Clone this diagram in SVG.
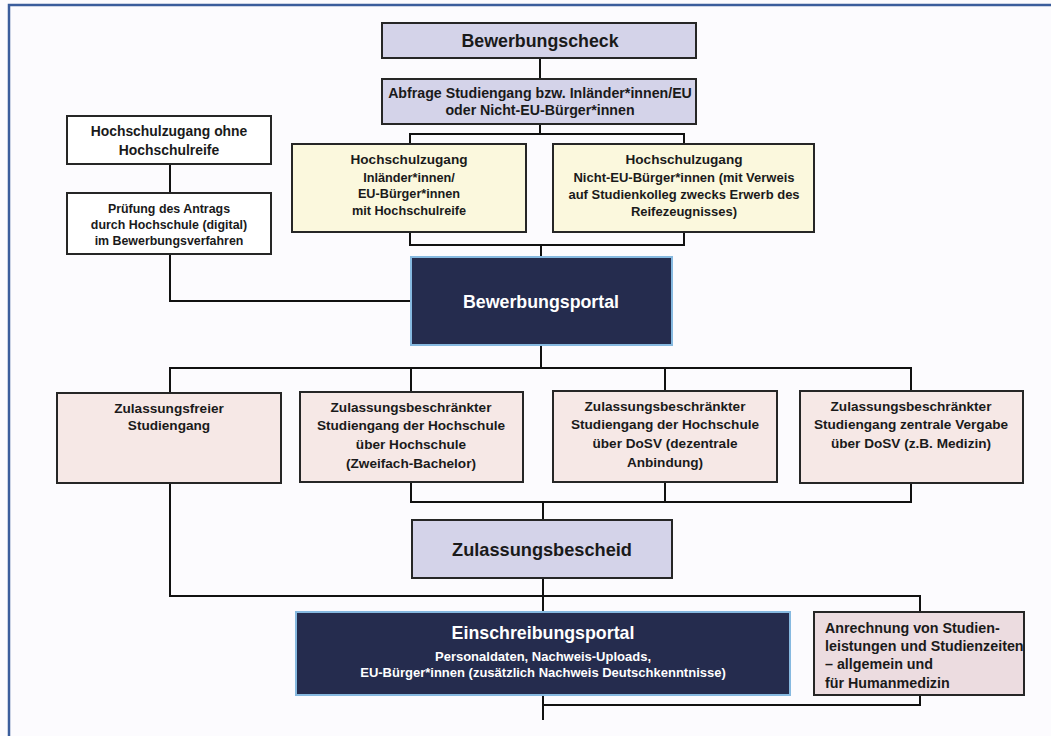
<svg xmlns="http://www.w3.org/2000/svg" width="1051" height="736" viewBox="0 0 1051 736">
<style>
.bg{fill:#fcfbfe}
.frame{fill:none;stroke:#3b5d9c;stroke-width:2.5}
.box{stroke:#262626;stroke-width:2}
.lav{fill:#d4d3e9}
.yel{fill:#fbf8dd}
.pink{fill:#f6e8e6}
.pink2{fill:#ecdce0}
.wht{fill:#ffffff}
.navy{fill:#252c4e;stroke:#86b9e0;stroke-width:2}
.conn{fill:none;stroke:#111;stroke-width:2}
text{font-family:"Liberation Sans",Arial,sans-serif;font-weight:bold;fill:#1a1a1a;text-anchor:middle}
.w{fill:#ffffff}
.h17{font-size:17.8px}
.h18{font-size:18.2px}
.abf{font-size:14.2px}
.t14{font-size:13.9px}
.t136{font-size:13.6px}
.t13{font-size:13px}
.t127{font-size:12.7px}
.t124{font-size:12.4px}
.t144{font-size:14.3px}
.left{text-anchor:start}
</style>
<rect class="bg" x="0" y="0" width="1051" height="736"/>
<path class="frame" d="M9 740 V5 H1060"/>
<g id="connectors">
<path class="conn" d="M540 58 V79"/>
<path class="conn" d="M540 124 V134 M410 144 V134 H684 V144"/>
<path class="conn" d="M410 232 V245 H684 V232 M541 245 V258"/>
<path class="conn" d="M170 164 V193"/>
<path class="conn" d="M170 254 V301 H411"/>
<path class="conn" d="M541 345 V368 M170 392 V368 H911 V391 M411 368 V392 M665 368 V391"/>
<path class="conn" d="M411 482 V502 H911 V483 M665 482 V502 M543 502 V520"/>
<path class="conn" d="M170 483 V596 H920 V612 M543 578 V612"/>
<path class="conn" d="M543 695 V720 M543 705 H920 V695"/>
</g>
<g id="bewerbungscheck">
<rect class="box lav" x="382" y="23" width="314" height="35"/>
<text class="h17" x="540" y="47">Bewerbungscheck</text>
</g>
<g id="abfrage">
<rect class="box lav" x="382" y="79" width="314" height="45"/>
<text class="abf" x="540" y="98">Abfrage Studiengang bzw. Inländer*innen/EU</text>
<text class="abf" x="540" y="115">oder Nicht-EU-Bürger*innen</text>
</g>
<g id="ohne-hochschulreife">
<rect class="box wht" x="67" y="116" width="204" height="48"/>
<text class="t14" x="169" y="136">Hochschulzugang ohne</text>
<text class="t14" x="169" y="155">Hochschulreife</text>
</g>
<g id="pruefung">
<rect class="box wht" x="67" y="193" width="204" height="61"/>
<text class="t124" x="169" y="213">Prüfung des Antrags</text>
<text class="t124" x="169" y="229">durch Hochschule (digital)</text>
<text class="t124" x="169" y="245">im Bewerbungsverfahren</text>
</g>
<g id="zugang-eu">
<rect class="box yel" x="292" y="144" width="234" height="88"/>
<text class="t136" x="409" y="164">Hochschulzugang</text>
<text class="t127" x="409" y="182">Inländer*innen/</text>
<text class="t127" x="409" y="198">EU-Bürger*innen</text>
<text class="t127" x="409" y="215">mit Hochschulreife</text>
</g>
<g id="zugang-nicht-eu">
<rect class="box yel" x="553" y="144" width="261" height="88"/>
<text class="t136" x="684" y="164">Hochschulzugang</text>
<text class="t13" x="684" y="182">Nicht-EU-Bürger*innen (mit Verweis</text>
<text class="t13" x="684" y="199">auf Studienkolleg zwecks Erwerb des</text>
<text class="t13" x="684" y="216">Reifezeugnisses)</text>
</g>
<g id="bewerbungsportal">
<rect class="navy" x="411" y="257" width="261" height="88"/>
<text class="h17 w" x="541" y="308">Bewerbungsportal</text>
</g>
<g id="zulassungsfrei">
<rect class="box pink" x="57" y="393" width="224" height="90"/>
<text class="t136" x="169" y="413">Zulassungsfreier</text>
<text class="t136" x="169" y="430">Studiengang</text>
</g>
<g id="beschraenkt-hochschule">
<rect class="box pink" x="300" y="392" width="223" height="90"/>
<text class="t136" x="411" y="412">Zulassungsbeschränkter</text>
<text class="t136" x="411" y="430">Studiengang der Hochschule</text>
<text class="t136" x="411" y="449">über Hochschule</text>
<text class="t136" x="411" y="468">(Zweifach-Bachelor)</text>
</g>
<g id="beschraenkt-dosv">
<rect class="box pink" x="553" y="391" width="224" height="91"/>
<text class="t136" x="665" y="411">Zulassungsbeschränkter</text>
<text class="t136" x="665" y="429">Studiengang der Hochschule</text>
<text class="t136" x="665" y="448">über DoSV (dezentrale</text>
<text class="t136" x="665" y="467">Anbindung)</text>
</g>
<g id="beschraenkt-zentral">
<rect class="box pink" x="800" y="391" width="223" height="92"/>
<text class="t136" x="911" y="411">Zulassungsbeschränkter</text>
<text class="t136" x="911" y="429">Studiengang zentrale Vergabe</text>
<text class="t136" x="911" y="448">über DoSV (z.B. Medizin)</text>
</g>
<g id="zulassungsbescheid">
<rect class="box lav" x="412" y="520" width="260" height="58"/>
<text class="h18" x="542" y="556">Zulassungsbescheid</text>
</g>
<g id="einschreibungsportal">
<rect class="navy" x="296" y="612" width="494" height="83"/>
<text class="h17 w" x="543" y="639">Einschreibungsportal</text>
<text class="t13 w" x="543" y="661">Personaldaten, Nachweis-Uploads,</text>
<text class="t13 w" x="543" y="677">EU-Bürger*innen (zusätzlich Nachweis Deutschkenntnisse)</text>
</g>
<g id="anrechnung">
<rect class="box pink2" x="814" y="612" width="210" height="83"/>
<text class="t144 left" x="825" y="633">Anrechnung von Studien-</text>
<text class="t144 left" x="825" y="651">leistungen und Studienzeiten</text>
<text class="t144 left" x="825" y="669">– allgemein und</text>
<text class="t144 left" x="825" y="688">für Humanmedizin</text>
</g>
</svg>
